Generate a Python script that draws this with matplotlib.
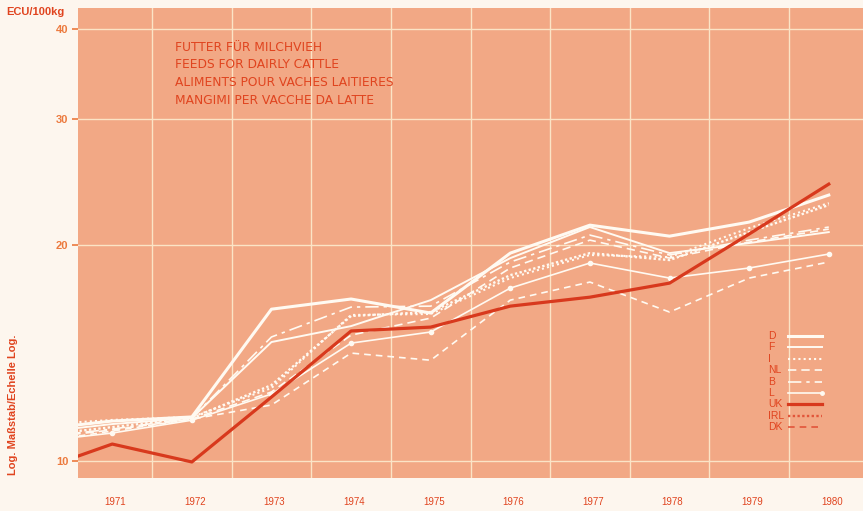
import matplotlib
matplotlib.use('Agg')
import matplotlib.pyplot as plt
from matplotlib.lines import Line2D
from matplotlib.ticker import NullLocator
from matplotlib.transforms import ScaledTranslation

# Feed prices for dairy cattle, ECU per 100 kg (log scale)
years = [1970, 1971, 1972, 1973, 1974, 1975, 1976, 1977, 1978, 1979, 1980]

d   = [11.05, 11.37, 11.52, 16.28, 16.82, 16.08, 19.49, 21.32, 20.58, 21.53, 23.48]
f   = [10.94, 11.26, 11.48, 14.65, 15.42, 16.76, 19.18, 21.19, 19.49, 20.13, 20.85]
i_  = [11.22, 11.41, 11.52, 12.64, 15.98, 16.03, 17.99, 19.37, 19.24, 21.12, 22.88]
nl  = [10.73, 11.05, 11.44, 12.48, 14.98, 15.82, 18.58, 20.32, 19.18, 20.19, 21.05]
b   = [10.77, 11.08, 11.48, 14.89, 16.39, 16.44, 18.94, 20.65, 19.37, 20.32, 21.19]
l   = [10.63, 10.94, 11.40, 12.40, 14.60, 15.13, 17.42, 18.88, 17.99, 18.58, 19.43]
uk  = [9.65, 10.56, 9.97, 12.28, 15.18, 15.37, 16.44, 16.92, 17.70, 20.72, 24.32]
irl = [10.83, 11.15, 11.48, 12.76, 15.93, 16.13, 18.16, 19.49, 19.06, 20.85, 22.74]
dk  = [10.60, 11.01, 11.44, 11.97, 14.14, 13.82, 16.76, 17.76, 16.13, 17.99, 18.94]

year_labels = ['1971', '1972', '1973', '1974', '1975', '1976', '1977', '1978', '1979', '1980']
y_ticks = [10, 20, 30, 40]

title_lines = ['FUTTER FÜR MILCHVIEH',
               'FEEDS FOR DAIRLY CATTLE',
               'ALIMENTS POUR VACHES LAITIERES',
               'MANGIMI PER VACCHE DA LATTE']

BG_PAGE = '#fdf6ee'
BG_PLOT = '#f2a885'
GRID = '#fbe4c6'
WHITE = '#fffaf2'
RED = '#d8391d'
LEG_RED = '#e2553a'
TEXT = '#e0441f'
TICK = '#ec7a3e'

W, H = 863, 511
fig = plt.figure(figsize=(W / 100, H / 100), dpi=100, facecolor=BG_PAGE)
ax = fig.add_axes([78 / W, 33 / H, 785 / W, 470 / H])
ax.set_facecolor(BG_PLOT)

# (label, values, colour, linewidth, linestyle, marker, legend colour)
series = [
    ('D',   d,   WHITE, 2.2, '-',               None, WHITE),
    ('F',   f,   WHITE, 1.4, '-',               None, WHITE),
    ('I',   i_,  WHITE, 1.5, (0, (1, 1.5)),     None, WHITE),
    ('NL',  nl,  WHITE, 1.2, (0, (5, 3)),       None, WHITE),
    ('B',   b,   WHITE, 1.2, (0, (8, 3, 2, 3)), None, WHITE),
    ('L',   l,   WHITE, 1.2, '-',               'o',  WHITE),
    ('UK',  uk,  RED,   2.3, '-',               None, RED),
    ('IRL', irl, WHITE, 1.7, (0, (1, 1)),       None, LEG_RED),
    ('DK',  dk,  WHITE, 1.2, (0, (4, 3)),       None, LEG_RED),
]

for name, vals, col, lw, ls, mk, _ in series:
    ax.plot(years, vals, color=col, linewidth=lw, linestyle=ls,
            marker=mk, markersize=3, zorder=4 if name == 'UK' else 3)

ax.set_yscale('log')
ax.set_ylim(9.47, 42.8)
ax.set_xlim(1970.57, 1980.43)

ax.set_yticks(y_ticks)
ax.set_yticklabels([str(t) for t in y_ticks])
ax.yaxis.set_minor_locator(NullLocator())
ax.tick_params(axis='y', which='major', length=4, width=1.2, color=TICK,
               labelcolor=TICK, labelsize=8, pad=3)
for lab in ax.get_yticklabels():
    lab.set_fontfamily('Liberation Sans')
    lab.set_fontweight('bold')

ax.set_xticks(years[1:])
ax.set_xticklabels(year_labels)
ax.set_xticks([y + 0.5 for y in years[1:-1]], minor=True)
ax.tick_params(axis='x', which='both', length=0, labelcolor=TEXT,
               labelsize=7, pad=14)
offset = ScaledTranslation(3 / 100, 0, fig.dpi_scale_trans)
for lab in ax.get_xticklabels():
    lab.set_fontfamily('Liberation Sans')
    lab.set_transform(lab.get_transform() + offset)

ax.grid(True, which='minor', axis='x', color=GRID, linewidth=1.0, zorder=1)
ax.grid(True, which='major', axis='y', color=GRID, linewidth=1.0, zorder=1)
ax.set_axisbelow(True)
for sp in ax.spines.values():
    sp.set_visible(False)

# title block
for k, line in enumerate(title_lines):
    fig.text(175 / W, 1 - (47 + k * 17.8) / H, line, color=TEXT,
             fontsize=8.8, va='center', ha='left', family='DejaVu Sans')

fig.text(6 / W, 1 - 12 / H, 'ECU/100kg', color=TEXT, fontsize=8,
         fontweight='bold', va='center', ha='left', family='Liberation Sans')
fig.text(13 / W, 1 - 405 / H, 'Log. Maßstab/Echelle Log.', color=TEXT,
         fontsize=8, fontweight='bold', rotation=90, va='center',
         ha='center', family='Liberation Sans')

# legend: label on the left, line sample on the right
for k, (name, vals, col, lw, ls, mk, lcol) in enumerate(series):
    yy = 1 - (336 + k * 11.4) / H
    fig.text(768 / W, yy, name, color=TEXT, fontsize=7.5, va='center',
             ha='left', family='Liberation Sans')
    fig.add_artist(Line2D([788 / W, 822 / W], [yy, yy], color=lcol,
                          linewidth=lw, linestyle=ls, marker=mk,
                          markersize=2.5, markevery=[1] if mk else None,
                          transform=fig.transFigure))

fig.savefig('out.png', dpi=100, facecolor=fig.get_facecolor())
